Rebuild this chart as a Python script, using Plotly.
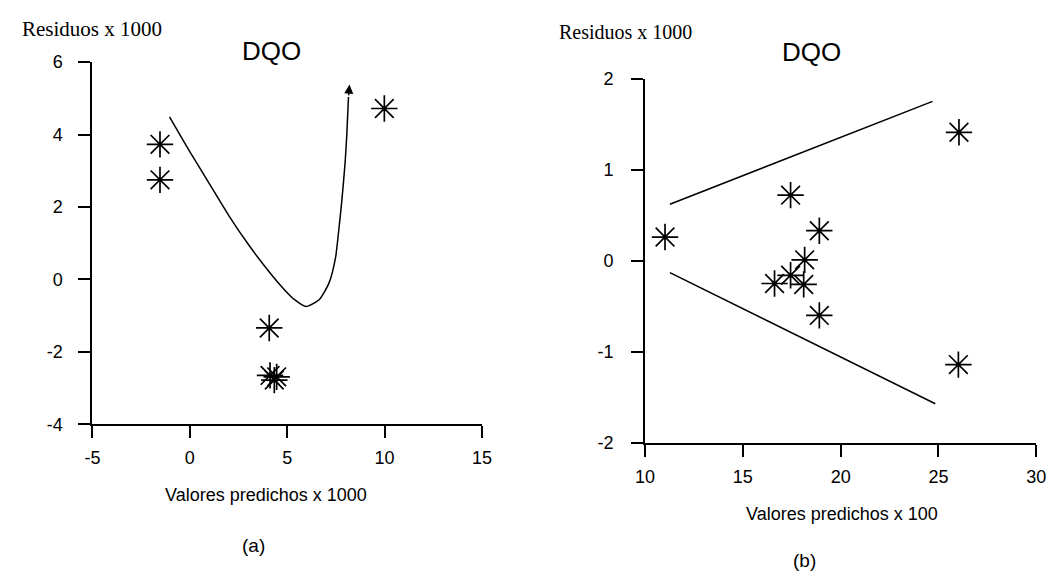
import plotly.graph_objects as go

# Panel (a): residuals vs predicted values (x 1000)
a_pts_x = [-1.53, -1.53, 9.99, 4.08, 4.12, 4.46, 4.34]
a_pts_y = [3.73, 2.75, 4.72, -1.34, -2.65, -2.69, -2.78]
a_curve_x = [-1.04, 0.0, 1.01, 2.02, 3.03, 4.03, 4.87, 5.38, 5.97, 6.64, 7.14, 7.48, 7.64, 7.81, 7.98, 8.06, 8.15, 8.2]
a_curve_y = [4.49, 3.53, 2.64, 1.75, 0.95, 0.24, -0.29, -0.56, -0.75, -0.56, -0.11, 0.59, 1.31, 2.19, 3.26, 3.97, 5.04, 5.38]
a_xticks = [-5, 0, 5, 10, 15]
a_xlabels = ["-5", "0", "5", "10", "15"]
a_yticks = [-4, -2, 0, 2, 4, 6]
a_ylabels = ["-4", "-2", "0", "2", "4", "6"]

# Panel (b): residuals vs predicted values (x 100)
b_pts_x = [11.02, 17.44, 18.91, 18.16, 17.44, 16.62, 18.11, 18.91, 26.05, 26.02]
b_pts_y = [0.26, 0.72, 0.33, 0.01, -0.16, -0.25, -0.26, -0.60, 1.41, -1.14]
b_upper_x = [11.27, 24.7]
b_upper_y = [0.62, 1.75]
b_lower_x = [11.27, 24.84]
b_lower_y = [-0.13, -1.57]
b_xticks = [10, 15, 20, 25, 30]
b_xlabels = ["10", "15", "20", "25", "30"]
b_yticks = [-2, -1, 0, 1, 2]
b_ylabels = ["-2", "-1", "0", "1", "2"]

W, H = 1058, 583
SANS = "Liberation Sans, Arial, sans-serif"
SERIF = "Liberation Serif, Times New Roman, serif"


def px(x):
    return x / W


def py(y):
    return 1 - y / H


star = dict(symbol="asterisk-open", size=22, color="black", line=dict(color="black", width=1.7))
thin = dict(color="black", width=1.5)

fig = go.Figure()
fig.add_trace(go.Scatter(x=a_curve_x[:-1], y=a_curve_y[:-1], mode="lines", line=dict(shape="spline", smoothing=0.6, **thin),
                         xaxis="x", yaxis="y", hoverinfo="skip"))
fig.add_trace(go.Scatter(x=a_pts_x, y=a_pts_y, mode="markers", marker=star, xaxis="x", yaxis="y"))
fig.add_trace(go.Scatter(x=b_upper_x, y=b_upper_y, mode="lines", line=thin, xaxis="x2", yaxis="y2"))
fig.add_trace(go.Scatter(x=b_lower_x, y=b_lower_y, mode="lines", line=thin, xaxis="x2", yaxis="y2"))
fig.add_trace(go.Scatter(x=b_pts_x, y=b_pts_y, mode="markers", marker=star, xaxis="x2", yaxis="y2"))

axis_common = dict(showline=True, linecolor="black", linewidth=2, ticks="outside", ticklen=12,
                   tickwidth=2, tickcolor="black", showgrid=False, zeroline=False,
                   tickfont=dict(family=SANS, size=18, color="black"), fixedrange=True)

fig.update_layout(
    width=W, height=H,
    margin=dict(l=0, r=0, t=0, b=0),
    paper_bgcolor="white", plot_bgcolor="white",
    showlegend=False,
    xaxis=dict(domain=[px(84), px(481)], range=[-5, 15], tickvals=a_xticks, ticktext=a_xlabels,
               anchor="y", ticklabelstandoff=4, **axis_common),
    yaxis=dict(domain=[py(429), py(54)], range=[-4, 6], tickvals=a_yticks, ticktext=a_ylabels,
               anchor="x", ticklabelstandoff=12, **axis_common),
    xaxis2=dict(domain=[px(647.3), px(1046)], range=[10, 30], tickvals=b_xticks, ticktext=b_xlabels,
                anchor="y2", ticklabelstandoff=4, **axis_common),
    yaxis2=dict(domain=[py(448.3), py(71)], range=[-2, 2], tickvals=b_yticks, ticktext=b_ylabels,
                anchor="x2", ticklabelstandoff=14, **axis_common),
)

# arrow head at the end of the curve in panel (a)
fig.add_annotation(x=a_curve_x[-1], y=a_curve_y[-1], ax=a_curve_x[-2], ay=a_curve_y[-2],
                   xref="x", yref="y", axref="x", ayref="y", text="", showarrow=True,
                   arrowhead=2, arrowsize=1.2, arrowwidth=1.5, arrowcolor="black")

texts = [
    ("Residuos x 1000", 84, 20, SERIF, 21),
    ("DQO", 266.5, 42, SANS, 26),
    ("Valores predichos x 1000", 261, 502, SANS, 18),
    ("(a)", 248, 555, SANS, 19),
    ("Residuos x 1000", 627, 23, SERIF, 20),
    ("DQO", 816.5, 43, SANS, 26),
    ("Valores predichos x 100", 848, 522, SANS, 18),
    ("(b)", 810, 570, SANS, 19),
]
for t, x, y, fam, size in texts:
    fig.add_annotation(x=px(x), y=py(y), xref="paper", yref="paper", text=t, showarrow=False,
                       xanchor="center", yanchor="middle", font=dict(family=fam, size=size, color="black"))

fig.write_html("out.html")
